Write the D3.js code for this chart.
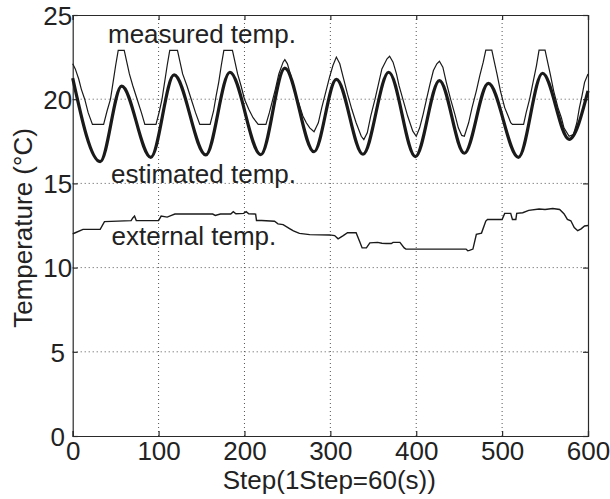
<!DOCTYPE html>
<html><head><meta charset="utf-8">
<script src="https://cdn.jsdelivr.net/npm/d3@7/dist/d3.min.js"></script>
<style>
html,body{margin:0;padding:0;background:#fff;}
svg text{font-family:"Liberation Sans",Arial,Helvetica,sans-serif;fill:#222;}
</style></head>
<body>
<svg id="chart" width="610" height="499"></svg>
<script>
// ---- data ----
const xTicks = [0, 100, 200, 300, 400, 500, 600];
const yTicks = [0, 5, 10, 15, 20, 25];
const xTitle = "Step(1Step=60(s))";
const yTitle = "Temperature (\u00B0C)";
const seriesLabels = ["measured temp.", "estimated temp.", "external temp."];

// measured temperature (thin line) [step, value]
const measuredStep = [0,3,7,10,14,18,23,36,40,44,47,50,53,60,63,66,70,75,80,84,97,101,104,107,110,113,122,125,128,133,138,143,148,160,164,167,170,173,176,186,189,192,196,200,205,210,216,225,229,232,236,240,245,247,250,254,258,263,268,272,276,281,286,290,295,299,303,307,311,315,320,325,330,336,339,343,347,352,356,360,366,369,373,377,380,385,390,396,400,404,408,412,416,420,424,427,431,435,440,445,449,453,456,461,465,470,474,478,481,488,491,494,498,503,507,510,512,525,528,532,536,540,543,550,553,556,560,565,569,572,578,583,587,590,593,596,600];
const measuredVal  = [22.1,21.8,21.2,20.6,20.0,19.2,18.5,18.5,19.3,20.0,21.0,22.0,22.9,22.9,22.2,21.5,20.8,20.0,19.2,18.5,18.5,19.3,20.0,21.0,22.0,22.9,22.9,22.2,21.5,20.8,20.0,19.2,18.5,18.5,19.3,20.2,21.0,22.0,22.9,22.9,22.2,21.5,20.8,20.0,19.4,18.9,18.5,18.5,19.2,19.8,20.6,21.5,22.2,22.35,22.1,21.4,20.5,19.8,19.0,18.6,18.3,18.07,18.6,19.5,20.5,21.3,22.0,22.5,22.1,21.3,20.3,19.4,18.6,17.8,17.6,18.0,19.0,20.0,20.9,21.8,22.4,22.55,22.2,21.5,20.8,19.9,19.0,18.1,17.8,18.3,19.1,20.0,20.9,21.7,22.1,22.25,21.9,21.0,20.0,19.1,18.3,17.85,17.8,18.6,19.5,20.5,21.4,22.2,22.92,22.92,22.2,21.5,20.5,19.5,19.0,18.6,18.5,18.5,19.2,20.0,21.0,22.0,22.92,22.92,22.2,21.5,20.5,19.5,18.9,18.3,17.8,17.9,18.6,19.5,20.2,21.0,21.5];

// estimated temperature (thick line), extremes [step, value]
const estimatedStep = [0,32,57,91,118,155,183,219,247,281,307,338,368,399,427,456,484,519,547,578,600];
const estimatedVal  = [21.25,16.29,20.78,16.55,21.44,16.69,21.6,16.7,21.85,16.88,21.18,16.73,21.6,16.59,21.1,16.79,20.94,16.55,21.54,17.62,20.5];

// external temperature [step, value]
const externalStep = [0,3,12,32,37,68,70,72,74,100,103,110,115,119,150,163,166,172,184,187,190,199,202,205,213,214,220,235,239,245,253,257,264,276,299,305,309,315,320,330,334,337,342,346,355,360,365,371,373,381,386,388,458,460,462,466,470,476,481,483,500,503,510,512,516,517,524,531,543,550,559,567,572,576,580,584,588,592,596,600];
const externalVal  = [12.0,12.07,12.27,12.27,12.73,12.79,12.95,13.06,12.79,12.79,13.06,13.0,13.1,13.18,13.18,13.18,13.1,13.18,13.18,13.32,13.2,13.22,13.32,13.2,13.18,12.8,12.8,12.75,12.6,12.55,12.3,12.18,12.03,11.96,11.94,11.9,11.71,11.9,12.07,12.07,11.57,11.17,11.17,11.47,11.5,11.45,11.43,11.43,11.5,11.5,11.17,11.1,11.1,11.0,11.02,11.1,11.97,12.05,12.76,12.86,12.86,13.22,13.22,12.86,12.86,13.22,13.26,13.4,13.48,13.45,13.51,13.45,13.2,12.86,12.78,12.38,12.19,12.3,12.47,12.5];

// ---- layout ----
const svg = d3.select("#chart");
const L = 72.7, R = 588, T = 15, B = 436;
const x = d3.scaleLinear().domain([0, 600]).range([L, R]);
const y = d3.scaleLinear().domain([0, 25]).range([B, T]);
const axisColor = "#2a2a2a";

// grid
const grid = svg.append("g");
grid.selectAll(".gx").data(xTicks.filter(d => d > 0 && d < 600)).enter().append("line")
  .attr("x1", d => x(d)).attr("x2", d => x(d)).attr("y1", T).attr("y2", B)
  .attr("stroke", "#555").attr("stroke-width", 1).attr("stroke-dasharray", "1,3");
grid.selectAll(".gy").data(yTicks.filter(d => d > 0 && d < 25)).enter().append("line")
  .attr("x1", L).attr("x2", R).attr("y1", d => y(d)).attr("y2", d => y(d))
  .attr("stroke", "#555").attr("stroke-width", 1).attr("stroke-dasharray", "1,3");

// axes (ticks inward, on all sides)
const fmt = d3.format("d");
const axB = svg.append("g").attr("transform", `translate(0,${B})`)
  .call(d3.axisBottom(x).tickValues(xTicks).tickSize(-5).tickPadding(10).tickFormat(fmt));
const axT = svg.append("g").attr("transform", `translate(0,${T})`)
  .call(d3.axisTop(x).tickValues(xTicks).tickSize(-5).tickFormat(""));
const axL = svg.append("g").attr("transform", `translate(${L},0)`)
  .call(d3.axisLeft(y).tickValues(yTicks).tickSize(-5).tickPadding(4).tickFormat(fmt));
const axR = svg.append("g").attr("transform", `translate(${R},0)`)
  .call(d3.axisRight(y).tickValues(yTicks).tickSize(-5).tickFormat(""));
[axB, axT, axL, axR].forEach(g => {
  g.select(".domain").attr("stroke", axisColor).attr("stroke-width", 1.2);
  g.selectAll(".tick line").attr("stroke", axisColor).attr("stroke-width", 1.2);
});
axB.selectAll(".tick text").attr("font-size", 26).attr("fill", "#222")
  .attr("font-family", "Liberation Sans, Arial, sans-serif").attr("dy", "0.55em");
axL.selectAll(".tick text").attr("font-size", 26).attr("fill", "#222")
  .attr("font-family", "Liberation Sans, Arial, sans-serif")
  .attr("text-anchor", "middle").attr("x", -15).attr("dy", "0.36em");

// lines
const mk = (xs, ys) => xs.map((s, i) => [s, ys[i]]);
const plot = svg.append("g");
plot.append("path").datum(mk(externalStep, externalVal))
  .attr("d", d3.line().x(d => x(d[0])).y(d => y(d[1])).curve(d3.curveLinear))
  .attr("fill", "none").attr("stroke", "#1a1a1a").attr("stroke-width", 1.4);
plot.append("path").datum(mk(measuredStep, measuredVal))
  .attr("d", d3.line().x(d => x(d[0])).y(d => y(d[1])).curve(d3.curveLinear))
  .attr("fill", "none").attr("stroke", "#1a1a1a").attr("stroke-width", 1.2);
plot.append("path").datum(mk(estimatedStep, estimatedVal))
  .attr("d", d3.line().x(d => x(d[0])).y(d => y(d[1])).curve(d3.curveMonotoneX))
  .attr("fill", "none").attr("stroke", "#1a1a1a").attr("stroke-width", 3.2);

// series labels
const labelPos = [[108, 43], [111, 182.5], [111.5, 245]];
svg.selectAll(".lbl").data(seriesLabels).enter().append("text")
  .attr("x", (d, i) => labelPos[i][0]).attr("y", (d, i) => labelPos[i][1])
  .attr("font-size", 26).text(d => d);

// axis titles
svg.append("text").attr("x", (L + R) / 2 - 1).attr("y", 489).attr("text-anchor", "middle")
  .attr("font-size", 26).text(xTitle);
svg.append("text").attr("transform", "translate(32,228) rotate(-90)").attr("text-anchor", "middle")
  .attr("font-size", 26).text(yTitle);
</script>
</body></html>
